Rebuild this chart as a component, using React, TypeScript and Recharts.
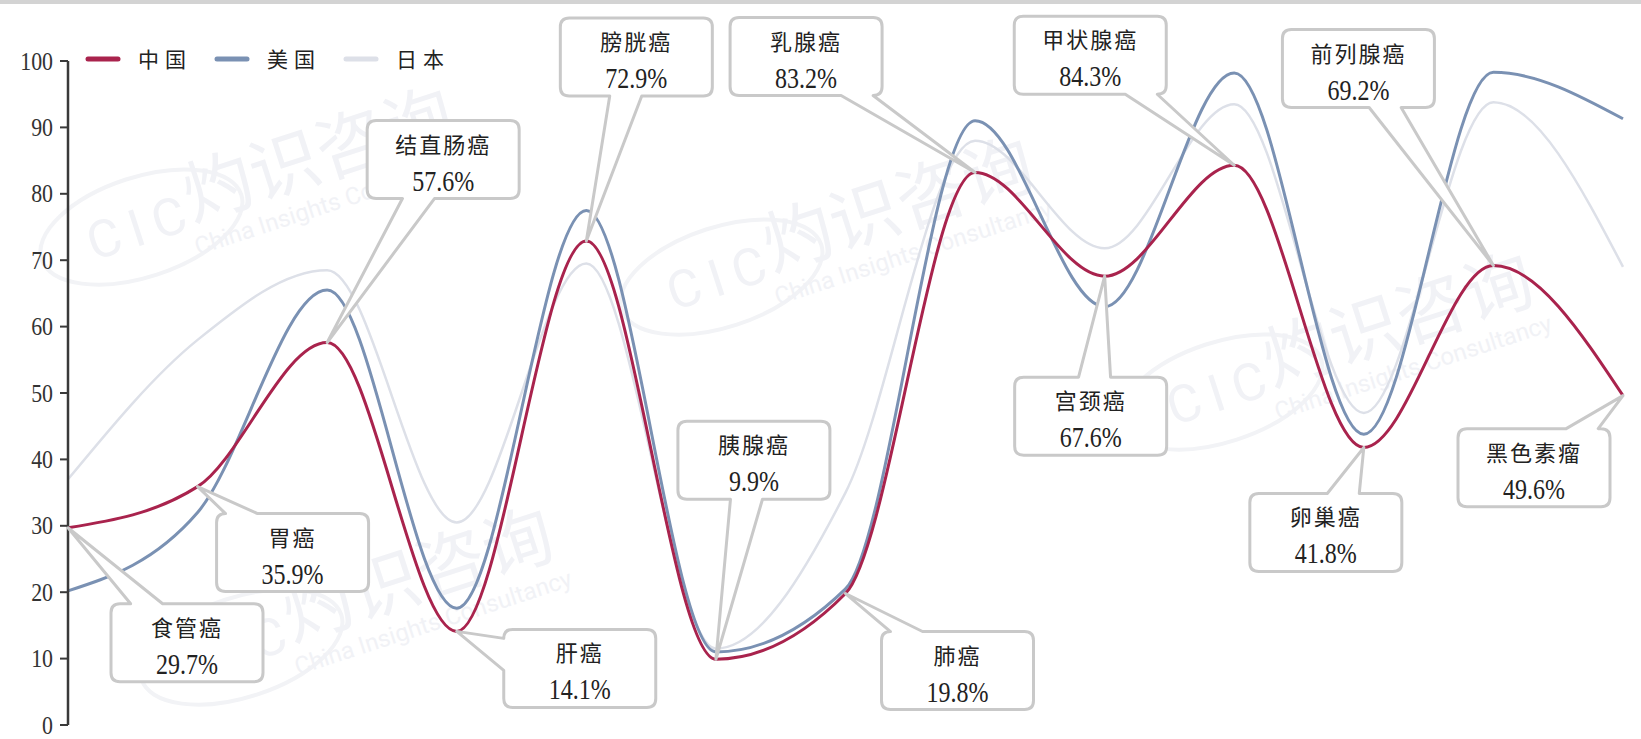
import React from "react";
import { LineChart, Line, XAxis, YAxis, Legend, LabelList } from "recharts";

const cancers = [
  "食管癌", "胃癌", "结直肠癌", "肝癌", "膀胱癌", "胰腺癌", "肺癌",
  "乳腺癌", "宫颈癌", "甲状腺癌", "卵巢癌", "前列腺癌", "黑色素瘤",
];
const chinaRates = [29.7, 35.9, 57.6, 14.1, 72.9, 9.9, 19.8, 83.2, 67.6, 84.3, 41.8, 69.2, 49.6];
const usRates = [20.2, 32, 65.5, 17.6, 77.5, 11, 20.5, 91, 63, 98.2, 43.8, 98.3, 91.3];
const japanRates = [37, 58, 68.5, 30.5, 69.5, 11.5, 35, 88, 71.8, 93.5, 47, 93.8, 69];
const yTicks = [0, 10, 20, 30, 40, 50, 60, 70, 80, 90, 100];

const series = [
  { key: "china", name: "中国", color: "#a9234d" },
  { key: "us", name: "美国", color: "#7a91b3" },
  { key: "japan", name: "日本", color: "#dde0e8" },
];

// where each callout box sits, as an offset of its centre from the China point (px)
const calloutOffsets: [number, number][] = [
  [119, 115], [95, 66], [116, -183], [123, 37], [50, -184], [38, -199], [112, 77],
  [-169, -116], [-14, 140], [-144, -110], [-38, 85], [-135, -197], [-89, 72],
];

// faint background watermark spots
const watermarks: [number, number][] = [
  [300, 165], [880, 215], [1380, 330], [400, 585],
];

const rows = cancers.map((name, i) => ({
  name,
  china: chinaRates[i],
  us: usRates[i],
  japan: japanRates[i],
}));

const CJK = '"Noto Sans CJK SC", sans-serif';
const SERIF = '"Liberation Serif", "Times New Roman", serif';

const BOX_W = 152;
const BOX_H = 78;
const R = 9;
const HALF = 16;

const clamp = (v: number, a: number, b: number) => Math.max(a, Math.min(b, v));

function calloutPath(cx: number, cy: number, tx: number, ty: number) {
  const x0 = cx - BOX_W / 2, x1 = cx + BOX_W / 2, y0 = cy - BOX_H / 2, y1 = cy + BOX_H / 2;
  const dx = tx - cx, dy = ty - cy;
  let side = "";
  if (Math.abs(dy) * BOX_W >= Math.abs(dx) * BOX_H) side = dy < 0 ? "top" : "bottom";
  else side = dx < 0 ? "left" : "right";
  const ix = clamp(cx + (dx * (BOX_H / 2)) / Math.max(Math.abs(dy), 1), x0 + R + HALF, x1 - R - HALF);
  const iy = clamp(cy + (dy * (BOX_W / 2)) / Math.max(Math.abs(dx), 1), y0 + R + HALF, y1 - R - HALF);
  let p = `M${x0 + R},${y0}`;
  if (side === "top") p += `L${ix - HALF},${y0}L${tx},${ty}L${ix + HALF},${y0}`;
  p += `L${x1 - R},${y0}Q${x1},${y0} ${x1},${y0 + R}`;
  if (side === "right") p += `L${x1},${iy - HALF}L${tx},${ty}L${x1},${iy + HALF}`;
  p += `L${x1},${y1 - R}Q${x1},${y1} ${x1 - R},${y1}`;
  if (side === "bottom") p += `L${ix + HALF},${y1}L${tx},${ty}L${ix - HALF},${y1}`;
  p += `L${x0 + R},${y1}Q${x0},${y1} ${x0},${y1 - R}`;
  if (side === "left") p += `L${x0},${iy + HALF}L${tx},${ty}L${x0},${iy - HALF}`;
  p += `L${x0},${y0 + R}Q${x0},${y0} ${x0 + R},${y0}Z`;
  return p;
}

function Callout(props: any) {
  const { x, y, value } = props;
  let index = props.index;
  if (index === undefined) index = chinaRates.indexOf(value);
  if (x == null || y == null || index < 0) return null;
  const [ox, oy] = calloutOffsets[index];
  const cx = x + ox;
  const cy = y + oy;
  const top = cy - BOX_H / 2;
  return (
    <g>
      <path
        d={calloutPath(cx, cy, x, y)}
        fill="#ffffff"
        stroke="#c9c9c9"
        strokeWidth={3}
        strokeLinejoin="round"
      />
      <text
        x={cx}
        y={top + 22}
        textAnchor="middle"
        dominantBaseline="central"
        style={{ fontFamily: CJK, fontSize: 22, letterSpacing: 2 }}
        fill="#222"
      >
        {cancers[index]}
      </text>
      <text
        transform={`translate(${cx},${top + 60}) scale(0.96,1.22)`}
        textAnchor="middle"
        dominantBaseline="central"
        style={{ fontFamily: SERIF, fontSize: 25 }}
        fill="#222"
      >
        {`${value}%`}
      </text>
    </g>
  );
}

function YTick(props: any) {
  const { x, y, payload } = props;
  return (
    <text
      transform={`translate(${x},${y}) scale(0.95,1.12)`}
      textAnchor="end"
      dominantBaseline="central"
      style={{ fontFamily: SERIF, fontSize: 23 }}
      fill="#333"
    >
      {payload.value}
    </text>
  );
}

function LegendBox() {
  return (
    <div style={{ display: "flex", alignItems: "center" }}>
      {series.map((s) => (
        <div key={s.key} style={{ display: "flex", alignItems: "center", marginRight: 22 }}>
          <svg width={36} height={8}>
            <line x1={3} y1={4} x2={33} y2={4} stroke={s.color} strokeWidth={5} strokeLinecap="round" />
          </svg>
          <span
            style={{
              marginLeft: 17,
              fontFamily: CJK,
              fontSize: 21,
              letterSpacing: 6,
              color: "#222",
              lineHeight: 1,
            }}
          >
            {s.name}
          </span>
        </div>
      ))}
    </div>
  );
}

function Watermarks() {
  return (
    <svg width={1641} height={739} style={{ position: "absolute", left: 0, top: 0 }}>
      {watermarks.map(([wx, wy], i) => (
        <g key={i} transform={`translate(${wx},${wy}) rotate(-18)`} fill="#f1f2f6">
          <ellipse cx={-170} cy={10} rx={105} ry={50} fill="none" stroke="#f2f3f6" strokeWidth={4} />
          <text x={-170} y={10} textAnchor="middle" dominantBaseline="central" style={{ fontFamily: "Roboto, sans-serif", fontSize: 52, letterSpacing: 10 }}>
            CIC
          </text>
          <text x={20} y={-10} textAnchor="middle" dominantBaseline="central" style={{ fontFamily: CJK, fontSize: 70 }}>
            灼识咨询
          </text>
          <text x={20} y={46} textAnchor="middle" dominantBaseline="central" style={{ fontFamily: "Roboto, sans-serif", fontSize: 24 }}>
            China Insights Consultancy
          </text>
        </g>
      ))}
    </svg>
  );
}

export default function App() {
  return (
    <div style={{ position: "absolute", left: 0, top: 0, width: 1641, height: 739, background: "#fff" }}>
      <Watermarks />
      <div style={{ position: "absolute", left: 0, top: 0, width: 1641, height: 4, background: "#d3d3d3" }} />
      <LineChart width={1641} height={739} data={rows} margin={{ top: 61, right: 18, bottom: 14, left: 0 }}>
        <XAxis dataKey="name" tick={false} tickLine={false} height={0} axisLine={{ stroke: "#3a3a3a", strokeWidth: 2.5 }} />
        <YAxis
          domain={[0, 100]}
          ticks={yTicks}
          width={68}
          tickSize={8}
          tickMargin={7}
          axisLine={{ stroke: "#3a3a3a", strokeWidth: 2.5 }}
          tickLine={{ stroke: "#3a3a3a", strokeWidth: 2 }}
          tick={<YTick />}
        />
        <Legend
          content={() => <LegendBox />}
          verticalAlign="middle"
          align="center"
          wrapperStyle={{ left: 85, top: 48, width: "auto" }}
        />
        <Line type="monotone" dataKey="japan" name="日本" stroke="#dde0e8" strokeWidth={2.5} dot={false} activeDot={false} isAnimationActive={false} />
        <Line type="monotone" dataKey="us" name="美国" stroke="#7a91b3" strokeWidth={3} dot={false} activeDot={false} isAnimationActive={false} />
        <Line type="monotone" dataKey="china" name="中国" stroke="#a9234d" strokeWidth={3} dot={false} activeDot={false} isAnimationActive={false}>
          <LabelList dataKey="china" content={(p: any) => <Callout {...p} />} />
        </Line>
      </LineChart>
    </div>
  );
}
